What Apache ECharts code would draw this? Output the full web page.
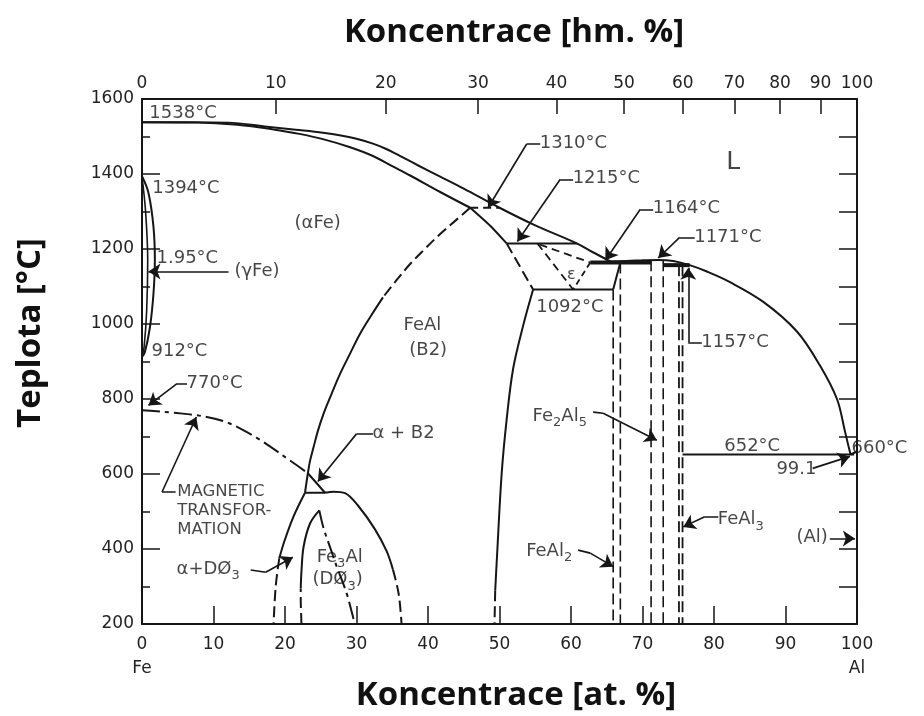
<!DOCTYPE html>
<html>
<head>
<meta charset="utf-8">
<script src="https://cdn.jsdelivr.net/npm/echarts@6/dist/echarts.min.js"></script>
<style>
  html, body { margin: 0; padding: 0; background: #ffffff; }
  #chart { width: 924px; height: 716px; }
</style>
</head>
<body>
<div id="chart"></div>
<script>
// Fe–Al binary phase diagram.
// Bottom axis: at.% Al, top axis: wt.% Al, vertical axis: temperature in °C.

const M_AL = 26.98;
const M_FE = 55.845;

// Tick labels
const atTicks = [0, 10, 20, 30, 40, 50, 60, 70, 80, 90, 100];
const wtTicks = [0, 10, 20, 30, 40, 50, 60, 70, 80, 90, 100];

// ---- Phase boundaries, [at.% Al, °C] ----
// liquidus from pure Fe down to the 1164 °C plateau
const liquidusFeSide = [[0,1538],[12,1537],[17.5,1526],[21.5,1518],[25.3,1510],[28,1502],[30,1494],[32.3,1481],[34,1468],[36,1449],[38.5,1424],[41.7,1393],[45,1361],[50,1310],[55,1263],[60.8,1215],[63,1192],[65.5,1167]];
// liquidus over the Fe2Al5 maximum and down to the Al-rich eutectic
const liquidusAlSide = [[65.5,1167],[67.8,1168],[70.2,1170],[72.2,1171],[74.3,1168],[76.6,1157],[79,1140],[82.1,1113],[86.9,1059],[91.6,980],[94.8,890],[97.2,800],[98.3,715],[98.8,675],[99.1,652]];
const liquidusAlEnd = [[99.1,652],[100,660]];
// solidus of (αFe)
const solidusAlphaFe = [[0,1538],[8,1537],[11.3,1534],[15,1528],[18.3,1519],[22,1507],[25.3,1493],[29,1472],[32.3,1448],[35,1421],[37.5,1396],[41.7,1352],[45.9,1310]];
// γ loop
const gammaLoopOuter = [[0,1394],[0.9,1350],[1.6,1260],[1.8,1170],[1.6,1080],[1.1,990],[0.4,925],[0,912]];
const gammaLoopInner = [[0,1394],[0.5,1300],[0.8,1170],[0.65,1035],[0.3,940],[0,912]];
// A2 / B2 ordering boundary
const b2OrderDashed = [[45.9,1310],[43.8,1275],[41.7,1240],[39.6,1201],[37.5,1160],[35.6,1117],[33.7,1071]];
const b2OrderSolid = [[33.7,1071],[32.1,1024],[30.5,974],[29.1,921],[27.7,867],[26.5,813],[25.4,761],[24.6,715],[24,672],[23.5,635],[23.2,602],[22.8,550]];
// B2 boundary between the 1310 and 1215 °C reactions
const b2HighEdge = [[45.9,1310],[48.7,1262],[51,1215]];
const b2EpsilonEdge = [[51,1215],[54.7,1092]];
// Al-rich edge of FeAl (B2)
const b2RightSolid = [[54.7,1092],[53.3,995],[51.9,880],[51,745],[50.3,600],[49.6,362],[49.4,290]];
const b2RightDashed = [[49.4,290],[49.3,200]];
// ε field
const epsilonLeft = [[55.3,1215],[60.3,1092]];
const epsilonTop = [[55.6,1212],[62.7,1164]];
const epsilonRight = [[62.7,1164],[60.3,1092]];
// magnetic transformation (Curie line)
const curieLine = [[0,770],[6.7,759],[11.4,741],[16,697],[20.7,636],[23.2,602]];
const alphaB2Edge = [[23.2,602],[25.6,550]];
// α / α+DØ3
const alphaD03Solid = [[22.8,550],[21.2,487],[19.9,420],[19.2,375]];
const alphaD03Dashed = [[19.2,375],[18.7,300],[18.4,200]];
// DØ3 field
const d03InnerDashed = [[22.3,200],[22.2,260],[22.2,295]];
const d03InnerSolid = [[22.2,295],[22.3,340],[22.6,406],[23.5,468],[24.8,503]];
const d03OrderLine = [[24.8,503],[25.4,455],[26.3,405],[27.2,355],[28.6,283],[29.6,212],[29.7,200]];
const d03OuterSolid = [[25.6,550],[26.8,553],[28.4,549],[30.2,516],[32.5,455],[34.2,395],[35.1,345]];
const d03OuterDashed = [[35.1,345],[35.9,280],[36.3,200]];
// intermetallic compounds
const feAl2Top = [[65.9,1092],[66.9,1164]];
const feAl2Left = [[65.9,1092],[65.9,200]];
const feAl2Right = [[66.9,1164],[66.9,200]];
const fe2Al5Left = [[71.2,1170],[71.2,200]];
const fe2Al5Right = [[72.9,1170],[72.9,200]];
const feAl3Left = [[75.1,1157],[75.1,200]];
const feAl3Right = [[75.6,1157],[75.6,200]];
// invariant reactions
const iso1310 = [[45.9,1310],[50,1310]];
const iso1215 = [[51,1215],[60.8,1215]];
const iso1164 = [[62.7,1164],[71.2,1164]];
const iso1157 = [[72.9,1157],[76.6,1157]];
const iso1092 = [[54.7,1092],[65.9,1092]];
const iso652 = [[75.6,652],[99.6,652]];
const iso550 = [[22.8,550],[25.6,550]];

// ---- helpers ----
const INK = '#161616';
const FONT = '"DejaVu Sans", "Liberation Sans", sans-serif';
const DASH = [11, 5];
const DASHDOT = [18, 5, 4, 5];

function wtToAt(w) {
  const a = w / M_AL, f = (100 - w) / M_FE;
  return 100 * a / (a + f);
}
const topTickPos = wtTicks.map(wtToAt);

function curve(data, type, width, smooth) {
  return {
    type: 'line', data: data, showSymbol: false, symbol: 'none',
    smooth: smooth === undefined ? 0.35 : smooth,
    silent: true, animation: false, z: 3,
    lineStyle: { color: INK, width: width || 2, type: type || 'solid', cap: 'butt' }
  };
}

const series = [
  curve(liquidusFeSide),
  curve(liquidusAlSide),
  curve(liquidusAlEnd, 'solid', 2, 0),
  curve(solidusAlphaFe),
  curve(gammaLoopOuter, 'solid', 2),
  curve(gammaLoopInner, 'solid', 1.6),
  curve(b2OrderDashed, DASH),
  curve(b2OrderSolid),
  curve(b2HighEdge, 'solid', 2, 0.2),
  curve(b2EpsilonEdge, DASH, 2, 0),
  curve(b2RightSolid),
  curve(b2RightDashed, DASH, 2, 0),
  curve(epsilonLeft, [8, 5], 1.8, 0),
  curve(epsilonTop, [8, 5], 1.8, 0),
  curve(epsilonRight, [6, 4], 1.8, 0),
  curve(curieLine, DASHDOT),
  curve(alphaB2Edge, 'solid', 2, 0),
  curve(alphaD03Solid),
  curve(alphaD03Dashed, DASH),
  curve(d03InnerDashed, DASH, 2, 0),
  curve(d03InnerSolid),
  curve(d03OrderLine, DASHDOT),
  curve(d03OuterSolid),
  curve(d03OuterDashed, DASH),
  curve(feAl2Top, 'solid', 2, 0),
  curve(feAl2Left, DASH, 1.6, 0),
  curve(feAl2Right, DASH, 1.6, 0),
  curve(fe2Al5Left, DASH, 1.6, 0),
  curve(fe2Al5Right, DASH, 1.6, 0),
  curve(feAl3Left, DASH, 1.8, 0),
  curve(feAl3Right, DASH, 1.8, 0),
  curve(iso1310, [8, 5], 1.8, 0),
  curve(iso1215, 'solid', 2, 0),
  curve(iso1164, 'solid', 4, 0),
  curve(iso1157, 'solid', 4, 0),
  curve(iso1092, 'solid', 2, 0),
  curve(iso652, 'solid', 2, 0),
  curve(iso550, 'solid', 2, 0)
];

// ---- annotation texts (anchor in data space) ----
const notes = [
  { text: '1538°C', at: [1.1, 1560] },
  { text: '1394°C', at: [1.5, 1360] },
  { text: '1.95°C', at: [2.1, 1174] },
  { text: '(γFe)', at: [13, 1138] },
  { text: '(αFe)', at: [21.4, 1267] },
  { text: '912°C', at: [1.4, 925] },
  { text: '770°C', at: [6.3, 841] },
  { text: 'MAGNETIC\nTRANSFOR-\nMATION', at: [5, 578], size: 16.5, valign: 'top', lh: 19 },
  { text: 'α + B2', at: [32.3, 707] },
  { text: 'FeAl', at: [39.3, 996], align: 'center' },
  { text: '(B2)', at: [40.1, 929], align: 'center' },
  { text: '{t|Fe}{s|3}{t|Al}', at: [24.5, 376] },
  { text: '{t|(DØ}{s|3}{t|)}', at: [23.9, 317] },
  { text: '{t|α+DØ}{s|3}', at: [4.9, 344] },
  { text: '{t|FeAl}{s|2}', at: [53.8, 392] },
  { text: '{t|Fe}{s|2}{t|Al}{s|5}', at: [54.7, 752] },
  { text: '{t|FeAl}{s|3}', at: [80.6, 477] },
  { text: '(Al)', at: [91.6, 429] },
  { text: '1092°C', at: [55.2, 1044] },
  { text: '1310°C', at: [55.7, 1480] },
  { text: '1215°C', at: [60.3, 1386] },
  { text: '1164°C', at: [71.5, 1306] },
  { text: '1171°C', at: [77.3, 1231] },
  { text: '1157°C', at: [78.3, 951] },
  { text: 'L', at: [81.8, 1430], size: 25 },
  { text: 'ε', at: [60.1, 1129], align: 'center', size: 16 },
  { text: '652°C', at: [81.5, 672] },
  { text: '660°C', at: [99.3, 668] },
  { text: '99.1', at: [88.8, 610] }
];

// leader lines: label end first, arrow tip last
const leaders = [
  [[55.7,1480],[53.8,1480],[48.4,1310]],
  [[60.3,1386],[58.5,1386],[52.5,1220]],
  [[71.5,1306],[69.7,1306],[64.8,1170]],
  [[77.3,1231],[75.2,1231],[72.2,1176]],
  [[78.3,951],[76.4,951],[76.4,1150]],
  [[6.3,841],[4.9,841],[0.9,783]],
  [[4.7,552],[2.8,552],[7.6,752]],
  [[32.3,707],[30,707],[24.6,580]],
  [[15.2,344],[17.3,338],[21.1,378]],
  [[61,397],[62.7,389],[65.9,353]],
  [[63.1,765],[64.5,762],[72,690]],
  [[80.6,486],[78.7,486],[75.7,459]],
  [[96.2,428],[99.7,428]],
  [[93.8,615],[99,647]],
  [[12.1,1140],[0.9,1140]]
];

const leaderBodies = [];
const leaderTips = [];
leaders.forEach(function (pts) {
  for (let i = 0; i < pts.length - 2; i++) leaderBodies.push({ coords: [pts[i], pts[i + 1]] });
  leaderTips.push({ coords: [pts[pts.length - 2], pts[pts.length - 1]] });
});

series.push({
  type: 'lines', coordinateSystem: 'cartesian2d', silent: true, animation: false, z: 4,
  symbol: 'none', lineStyle: { color: INK, width: 1.6, opacity: 1, curveness: 0 },
  data: leaderBodies
});
series.push({
  type: 'lines', coordinateSystem: 'cartesian2d', silent: true, animation: false, z: 4,
  symbol: ['none', 'arrow'], symbolSize: 12,
  itemStyle: { color: INK },
  lineStyle: { color: INK, width: 1.6, opacity: 1, curveness: 0 },
  data: leaderTips
});

const richStyles = {
  t: { fontFamily: FONT, fontSize: 18, color: INK, lineHeight: 26, verticalAlign: 'middle' },
  s: { fontFamily: FONT, fontSize: 13, color: INK, lineHeight: 15, verticalAlign: 'bottom' }
};

series.push({
  type: 'scatter', silent: true, animation: false, z: 5,
  symbolSize: 1, itemStyle: { color: 'rgba(0,0,0,0)' },
  data: notes.map(function (n) {
    return {
      value: n.at,
      label: {
        show: true,
        position: [0, 0],
        formatter: n.text,
        align: n.align || 'left',
        verticalAlign: n.valign || 'middle',
        fontFamily: FONT,
        fontSize: n.size || 18,
        lineHeight: n.lh || undefined,
        color: INK,
        rich: richStyles
      }
    };
  })
});

const axisLabelBase = { fontFamily: FONT, fontSize: 17, color: '#222' };
const TITLE_FONT = 'bold 33px "Open Sans", sans-serif';

const option = {
  backgroundColor: '#ffffff',
  animation: false,
  grid: { left: 142, right: 67, top: 99, bottom: 92, containLabel: false, outerBoundsMode: 'none' },
  xAxis: [
    {
      type: 'value', position: 'bottom', min: 0, max: 100, interval: 10,
      axisLine: { show: true, onZero: false, lineStyle: { color: INK, width: 2 } },
      axisTick: { show: true, inside: true, length: 18, lineStyle: { color: INK, width: 1.5 } },
      splitLine: { show: false },
      axisLabel: Object.assign({}, axisLabelBase, {
        margin: 9, lineHeight: 24,
        formatter: function (v) {
          if (v === atTicks[0]) return '0\nFe';
          if (v === atTicks[atTicks.length - 1]) return '100\nAl';
          return String(v);
        }
      })
    },
    {
      type: 'value', position: 'top', min: 0, max: 100,
      axisLine: { show: true, onZero: false, lineStyle: { color: INK, width: 2 } },
      axisTick: { show: true, inside: true, length: 15, customValues: topTickPos, lineStyle: { color: INK, width: 1.5 } },
      splitLine: { show: false },
      axisLabel: Object.assign({}, axisLabelBase, {
        margin: 7,
        customValues: topTickPos,
        formatter: function (v) {
          let best = 0, d = Infinity;
          topTickPos.forEach(function (p, i) { const e = Math.abs(p - v); if (e < d) { d = e; best = i; } });
          return String(wtTicks[best]);
        }
      })
    }
  ],
  yAxis: [
    {
      type: 'value', position: 'left', min: 200, max: 1600, interval: 200,
      axisLine: { show: true, onZero: false, lineStyle: { color: INK, width: 2 } },
      axisTick: { show: true, inside: true, length: 18, lineStyle: { color: INK, width: 1.5 } },
      minorTick: { show: true, splitNumber: 2, length: 8, lineStyle: { color: INK, width: 1.5 } },
      splitLine: { show: false }, minorSplitLine: { show: false },
      axisLabel: Object.assign({}, axisLabelBase, { margin: 8, formatter: function (v) { return String(v); } })
    },
    {
      type: 'value', position: 'right', min: 200, max: 1600, interval: 100,
      axisLine: { show: true, onZero: false, lineStyle: { color: INK, width: 2 } },
      axisTick: { show: true, inside: true, length: 18, lineStyle: { color: INK, width: 1.5 } },
      splitLine: { show: false },
      axisLabel: { show: false }
    }
  ],
  graphic: [
    { type: 'text', x: 514, y: 33, silent: true,
      style: { text: 'Koncentrace [hm. %]', font: TITLE_FONT, fill: '#111', align: 'center', verticalAlign: 'middle', textAlign: 'center', textVerticalAlign: 'middle' } },
    { type: 'text', x: 516, y: 696, silent: true,
      style: { text: 'Koncentrace [at. %]', font: TITLE_FONT, fill: '#111', align: 'center', verticalAlign: 'middle', textAlign: 'center', textVerticalAlign: 'middle' } },
    { type: 'text', x: 31, y: 333, rotation: Math.PI / 2, silent: true,
      style: { text: 'Teplota [°C]', font: TITLE_FONT, fill: '#111', align: 'center', verticalAlign: 'middle', textAlign: 'center', textVerticalAlign: 'middle' } }
  ],
  series: series
};

const chart = echarts.init(document.getElementById('chart'), null, { renderer: 'canvas' });
chart.setOption(option);
</script>
</body>
</html>
